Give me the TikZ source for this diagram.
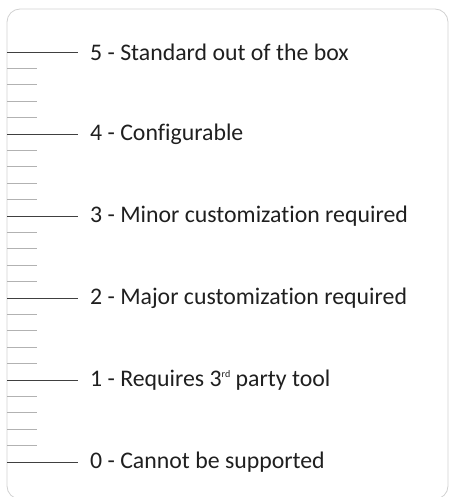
\documentclass[tikz,border=0pt]{standalone}
\usepackage{fontspec}
\setmainfont{Carlito}[Ligatures={NoCommon}]
\newcommand{\tinysup}[1]{\smash{\raisebox{9pt}{\fontsize{10}{10}\selectfont #1}}}
\begin{document}
\begin{tikzpicture}[x=1pt,y=-1pt,
  major/.style={draw=black!75, line width=0.8pt},
  minor/.style={draw=black!30, line width=0.8pt},
  lbl/.style={anchor=west, font=\fontsize{23.8}{26}\selectfont, text=black!88, inner sep=0pt}]
\useasboundingbox (0,0) rectangle (449,497);
\draw[black!18, line width=0.8pt, rounded corners=13pt] (7,9) rectangle (448,499);
\foreach \i in {0,...,25} {
  \pgfmathsetmacro{\yy}{52+\i*16.4}
  \pgfmathtruncatemacro{\m}{mod(\i,5)}
  \ifnum\m=0
    \draw[major] (7,\yy) -- (78,\yy);
  \else
    \draw[minor] (7,\yy) -- (37,\yy);
  \fi
}
\node[lbl] (l5) at (90,52) {5 - Standard out of the box};
\node[lbl] (l4) at (90,134) {4 - Configurable};
\node[lbl] (l3) at (90,216) {3 - Minor customization required};
\node[lbl] (l2) at (90,298) {2 - Major customization required};
\node[lbl] (l1) at (90,380) {1 - Requires 3\tinysup{rd} party tool};
\node[lbl] (l0) at (90,462) {0 - Cannot be supported};
\end{tikzpicture}
\end{document}
